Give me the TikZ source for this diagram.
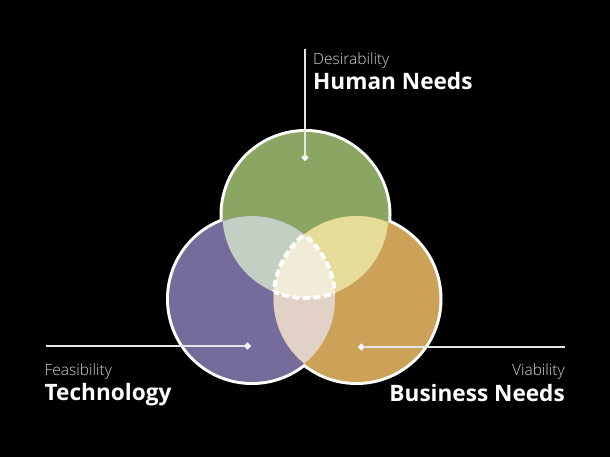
\documentclass[tikz,border=0pt]{standalone}
\usepackage{fontspec}
\setmainfont{Open Sans}
\newfontfamily\lightfont{Open Sans Light}
\usetikzlibrary{shapes.geometric}
\definecolor{cgreen}{HTML}{8BA563}
\definecolor{cpurple}{HTML}{766C9B}
\definecolor{corange}{HTML}{CCA158}
\definecolor{cgp}{HTML}{C3CFC3}
\definecolor{cgo}{HTML}{E5DD99}
\definecolor{cpo}{HTML}{E1D1C7}
\definecolor{ccenter}{HTML}{F1ECD8}
\definecolor{clight}{HTML}{D4D4D4}
\definecolor{cline}{HTML}{E6E6E6}
\tikzset{
  rim/.style={draw=white, line width=6pt},
  centerdash/.style={draw=white, line width=4pt, dash pattern=on 7pt off 3.5pt},
  conn/.style={draw=cline, line width=1.4pt},
  dot/.style={diamond, fill=white, inner sep=0pt, minimum size=7.5pt},
  lighttext/.style={inner sep=0pt, text=clight, font=\lightfont\fontsize{15.5pt}{18pt}\selectfont},
  boldtext/.style={inner sep=0pt, text=white, font=\bfseries\fontsize{22.6pt}{26pt}\selectfont}
}
\begin{document}
\begin{tikzpicture}[x=1pt,y=-1pt]
\fill[black] (0,0) rectangle (610,457);
\useasboundingbox (0,0) rectangle (610,457);
\def\R{83pt}
\coordinate (G) at (305.5,215);
\coordinate (P) at (252,299);
\coordinate (O) at (356.5,299);
% white rims
\foreach \c in {G,P,O} \path[rim] (\c) circle[radius=\R];
% base fills
\fill[cgreen] (G) circle[radius=\R];
\fill[cpurple] (P) circle[radius=\R];
\fill[corange] (O) circle[radius=\R];
% pairwise overlaps
\begin{scope}\clip (G) circle[radius=\R]; \fill[cgp] (P) circle[radius=\R];\end{scope}
\begin{scope}\clip (G) circle[radius=\R]; \fill[cgo] (O) circle[radius=\R];\end{scope}
\begin{scope}\clip (P) circle[radius=\R]; \fill[cpo] (O) circle[radius=\R];\end{scope}
% triple overlap
\begin{scope}\clip (G) circle[radius=\R]; \clip (P) circle[radius=\R];
  \fill[ccenter] (O) circle[radius=\R];
  \path[centerdash] (O) circle[radius=\R];\end{scope}
\begin{scope}\clip (G) circle[radius=\R]; \clip (O) circle[radius=\R];
  \path[centerdash] (P) circle[radius=\R];\end{scope}
\begin{scope}\clip (P) circle[radius=\R]; \clip (O) circle[radius=\R];
  \path[centerdash] (G) circle[radius=\R];\end{scope}
% connectors
\coordinate (topend) at (305,49);
\node[dot] (dtop) at (305,157.5) {};
\draw[conn] (topend) -- (dtop.center);
\coordinate (leftend) at (46,346);
\node[dot] (dleft) at (247.5,346) {};
\draw[conn] (leftend) -- (dleft.center);
\coordinate (rightend) at (565,347);
\node[dot] (dright) at (361.5,347) {};
\draw[conn] (rightend) -- (dright.center);
% labels
\node[lighttext, anchor=base west] (des) at (313,65) {Desirability};
\node[boldtext, anchor=base west] (hum) at (313,90) {Human Needs};
\node[lighttext, anchor=base west] (fea) at (44.5,375) {Feasibility};
\node[boldtext, anchor=base west] (tec) at (44.5,400) {Technology};
\node[lighttext, anchor=base east] (via) at (565,375) {Viability};
\node[boldtext, anchor=base east] (bus) at (565,401) {Business Needs};
\end{tikzpicture}
\end{document}
